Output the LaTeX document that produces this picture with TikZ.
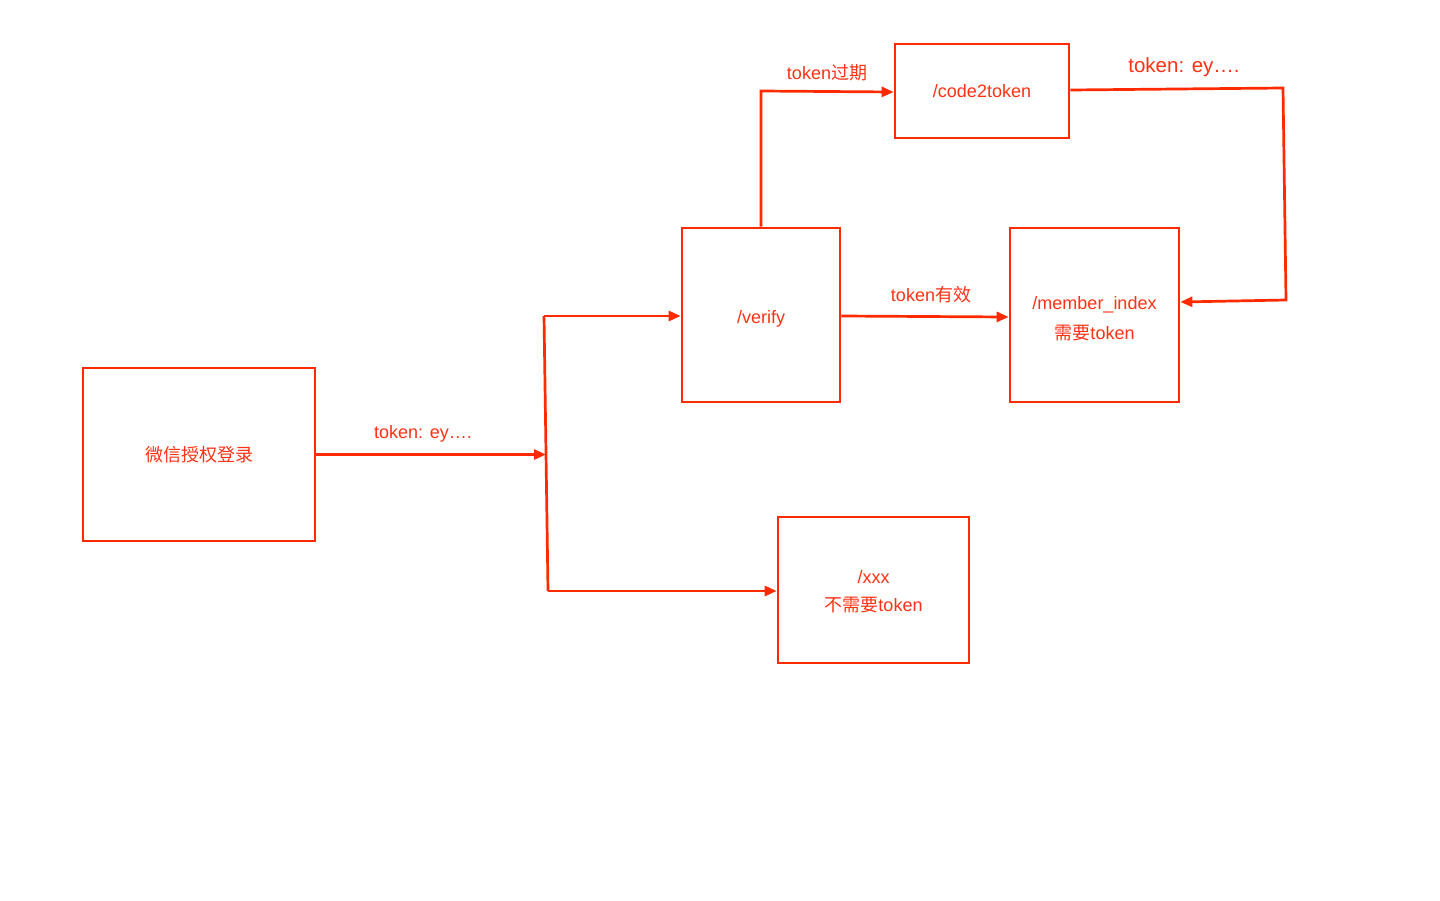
\documentclass[tikz,border=0pt]{standalone}
\usepackage{fontspec}
\setmainfont{Liberation Sans}
\newfontfamily\cjk{Noto Sans CJK SC}
\usetikzlibrary{arrows.meta}
\definecolor{lred}{RGB}{255,42,0}
\definecolor{tred}{RGB}{255,50,20}
\tikzset{
  box/.style={draw=lred, line width=2.7pt, inner sep=0pt, text=tred, align=center,
    font=\fontsize{18}{28}\selectfont},
  intext/.style={text=tred, align=center, inner sep=0pt, font=\fontsize{18}{28}\selectfont},
  conn/.style={draw=lred, line width=2.7pt, line join=miter},
  arr/.style={conn, -{Triangle[length=12pt,width=10pt]}},
  lbl/.style={text=tred, font=\fontsize{18}{22}\selectfont, inner sep=0pt},
}
\begin{document}
\begin{tikzpicture}[x=1pt,y=-1pt]
\useasboundingbox[fill=white] (0,0) rectangle (1440,900);
\node[box, minimum width=232pt, minimum height=173pt] (wx) at (199,454.5) {{\cjk 微信授权登录}};
\node[box, minimum width=158pt, minimum height=174pt,
  label={[intext, yshift=-3.5pt]center:/verify}] (verify) at (761,315) {};
\node[box, minimum width=174pt, minimum height=94pt] (c2t) at (982,91) {/code2token};
\node[box, minimum width=169pt, minimum height=174pt,
  label={[intext, yshift=-3.5pt, font=\fontsize{18}{30}\selectfont]center:/member\_index\\{\cjk 需要}token}] (member) at (1094.5,315) {};
\node[box, minimum width=191pt, minimum height=146pt,
  label={[intext, yshift=-1.5pt]center:/xxx\\{\cjk 不需要}token}] (xxx) at (873.5,590) {};

\coordinate (ja) at (544,316);
\coordinate (jb) at (548,591);
\coordinate (jm) at (546,454.5);
\coordinate (vt) at (761,91);
\coordinate (r1) at (1283,88);
\coordinate (r2) at (1286,300);

\draw[arr] (wx.east) -- (jm);
\draw[conn] (ja) -- (jb);
\draw[arr] (ja) -- (verify.west |- ja);
\draw[arr] (jb) -- (xxx.west |- jb);
\draw[arr] (verify.north) -- (vt) -- (c2t.west |- 0,92);
\draw[arr] (verify.east |- 0,316) -- (member.west |- 0,317);
\draw[arr] (c2t.east |- 0,90) -- (r1) -- (r2) -- (member.east |- 0,302);

\node[lbl] (l1) at (423,434) {token: ey….};
\node[lbl] (l2) at (827,73) {token{\cjk 过期}};
\node[lbl] (l3) at (931,295) {token{\cjk 有效}};
\node[lbl, font=\fontsize{20.5}{24}\selectfont] (l4) at (1184,67) {token: ey….};
\end{tikzpicture}
\end{document}
